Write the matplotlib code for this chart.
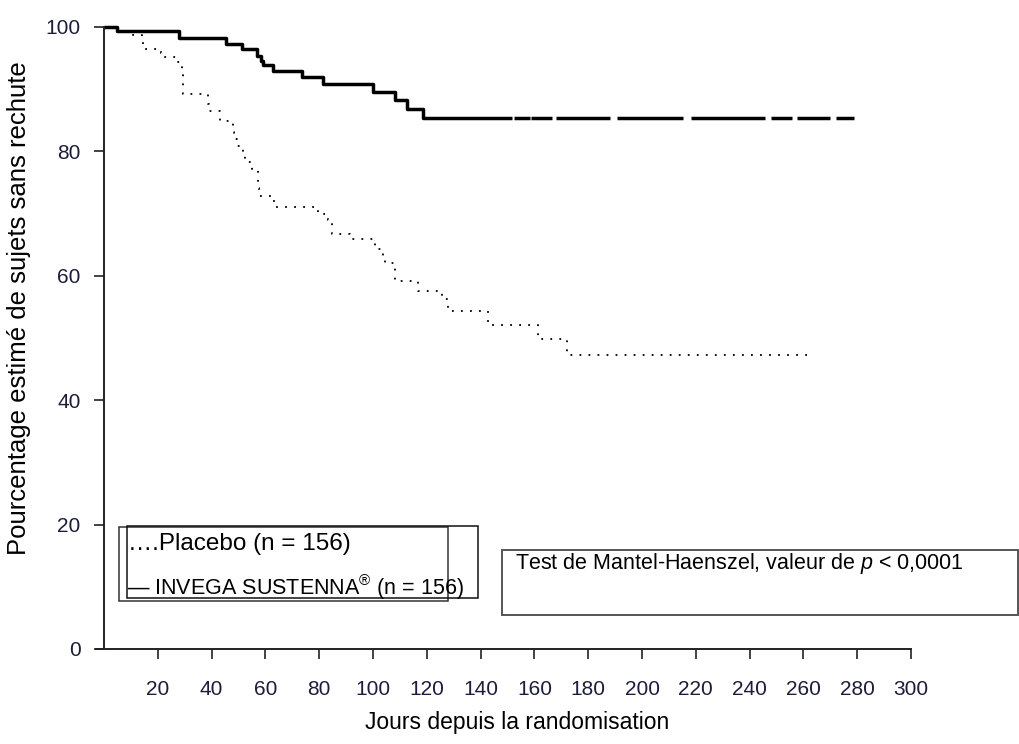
import matplotlib
matplotlib.use("Agg")
import matplotlib.pyplot as plt
from matplotlib.patches import Rectangle

plt.rcParams['font.family'] = ['Liberation Sans', 'DejaVu Sans']
plt.rcParams['mathtext.fontset'] = 'custom'
plt.rcParams['mathtext.rm'] = 'Liberation Sans'
plt.rcParams['mathtext.it'] = 'Liberation Sans:italic'

# Kaplan-Meier data (days, % without relapse)
invega_days = [0, 4.7, 28.0, 45.4, 51.2, 56.7, 58.2, 59.2, 62.9, 73.5, 81.5,
               100.1, 108.2, 112.5, 118.7, 151.6]
invega_surv = [100, 99.4, 98.2, 97.3, 96.4, 95.4, 94.6, 93.9, 93.0, 91.9, 90.8,
               89.6, 88.2, 86.8, 85.3, 85.3]
# broken tail of the INVEGA curve (start, end days)
invega_tail = [(152.5, 158.4), (158.6, 166.4), (168.0, 188.1), (190.6, 215.4),
               (218.1, 245.7), (247.9, 255.6), (257.7, 269.9), (272.1, 278.8)]

placebo_days = [0, 4.7, 10.8, 14.0, 14.5, 21.3, 21.8, 27.5, 28.9, 29.5, 38.8,
                39.2, 43.1, 48.1, 48.4, 49.5, 51.7, 52.5, 53.5, 55.0, 57.2,
                57.4, 57.6, 62.3, 63.6, 79.6, 83.3, 84.6, 91.4, 100.7, 103.8,
                104.5, 108.2, 116.7, 125.5, 128.0, 142.9, 161.4, 172.0, 263.7]
placebo_surv = [100, 99.4, 98.7, 98.1, 96.5, 95.8, 95.1, 94.3, 92.3, 89.2, 87.6,
                86.5, 84.9, 83.1, 82.0, 80.9, 79.9, 78.7, 78.3, 77.1, 75.7,
                74.1, 72.8, 72.0, 71.1, 69.9, 68.9, 66.7, 65.9, 64.3, 63.2,
                62.0, 59.2, 57.5, 56.2, 54.3, 52.1, 49.9, 47.2, 47.2]

x_ticks = list(range(20, 301, 20))
y_ticks = list(range(0, 101, 20))

W, H = 1020, 744
fig = plt.figure(figsize=(W / 100, H / 100), dpi=100)
ax = fig.add_axes([104 / W, 95 / H, 807 / W, 622 / H])

# curves
ax.step(invega_days, invega_surv, where='post', color='black', lw=2.5,
        clip_on=False, solid_capstyle='butt')
tail_level = invega_surv[-1]
tail = ax.hlines([tail_level] * len(invega_tail), [s for s, e in invega_tail],
                 [e for s, e in invega_tail], color='black', lw=2.5)
tail.set_capstyle('butt')
ax.step(placebo_days, placebo_surv, where='post', color='black', lw=1.3,
        linestyle=(0, (1, 4)), clip_on=False)

ax.set_xlim(0, 300)
ax.set_ylim(0, 100)
ax.set_xticks(x_ticks)
ax.set_yticks(y_ticks)
ax.spines['top'].set_visible(False)
ax.spines['right'].set_visible(False)
for s in ['left', 'bottom']:
    ax.spines[s].set_linewidth(1.4)
    ax.spines[s].set_color('#222222')
ax.spines['bottom'].set_bounds(-3, 300)
ax.tick_params(axis='both', direction='out', length=7, width=1.2, color='#222222',
               labelcolor='#1c1c3c', labelsize=15)
ax.tick_params(axis='x', pad=15)
ax.tick_params(axis='y', pad=10)

fig.text(517 / W, 1 - 722 / H, 'Jours depuis la randomisation', fontsize=16.5,
         ha='center', va='center')
fig.text(19 / W, 1 - 308 / H, 'Pourcentage estimé de sujets sans rechute',
         fontsize=18.5, ha='center', va='center', rotation=90)

# legend boxes
def box(x0, y0, x1, y1, lw, color):
    r = Rectangle((x0 / W, 1 - y1 / H), (x1 - x0) / W, (y1 - y0) / H,
                  transform=fig.transFigure, fill=False, lw=lw, edgecolor=color)
    fig.add_artist(r)

box(119, 527, 448, 601, 1.1, '#333333')
box(127, 526, 478, 598, 1.1, '#111111')
box(502, 550, 1018, 615, 1.4, '#555555')

fig.text(128 / W, 1 - 544 / H, '….Placebo (n = 156)', fontsize=17.5,
         ha='left', va='center')
fig.text(127 / W, 1 - 587 / H, '— INVEGA SUSTENNA$^{®}$ (n = 156)', fontsize=15.5,
         ha='left', va='center')
fig.text(515 / W, 1 - 564 / H, 'Test de Mantel-Haenszel, valeur de $p$ < 0,0001',
         fontsize=15.5, ha='left', va='center')

fig.savefig('out.png', dpi=100)
